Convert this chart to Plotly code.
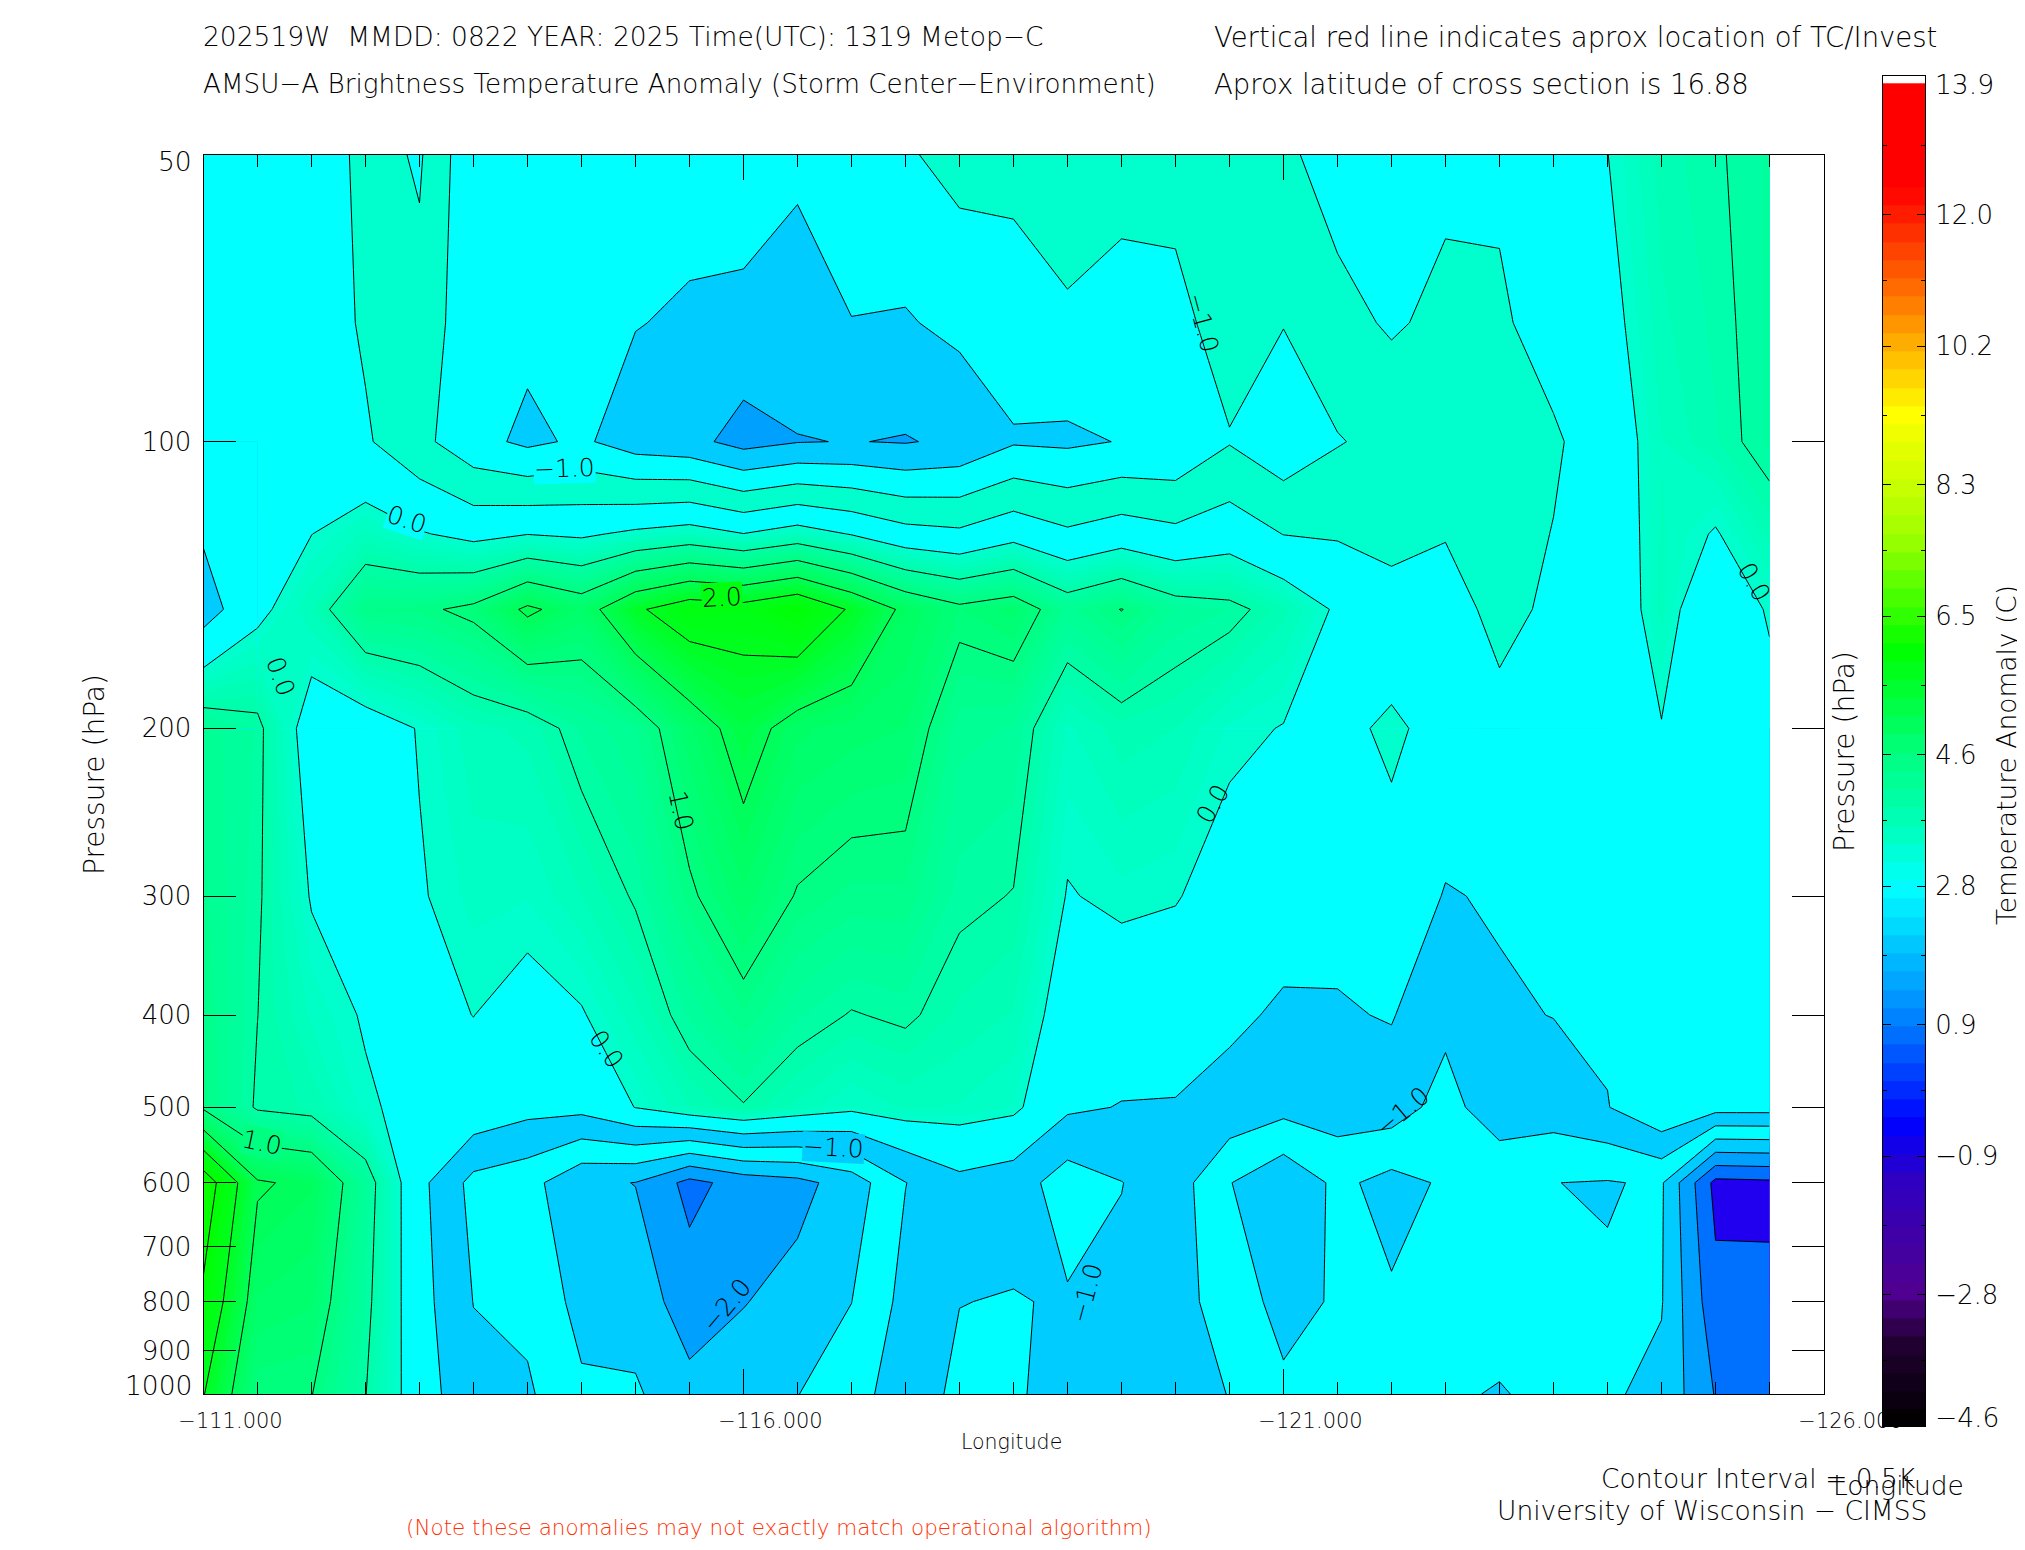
import math
import plotly.graph_objects as go

# longitude columns and pressure rows of the cross section
lons = [-111.0, -111.5, -112.0, -112.5, -113.0, -113.5, -114.0, -114.5, -115.0, -115.5,
        -116.0, -116.5, -117.0, -117.5, -118.0, -118.5, -119.0, -119.5, -120.0, -120.5,
        -121.0, -121.5, -122.0, -122.5, -123.0, -123.5, -124.0, -124.5, -125.0, -125.5]
pressures = [50, 75, 100, 125, 150, 200, 300, 400, 500, 600, 800, 1000]

t50 = [-.15, -.2, -.03, -.7, -.44, -1.41, -1.15, -1.15, -1.21, -1.29,
       -1.15, -1.41, -1.05, -1.06, -.83, -.87, -.61, -.84, -.825, -.54,
       -.6, -.28, -.03, -.38, -.415, -.04, -.005, .35, .47, .62]
t75 = [-.155, -.225, -.2, -.57, -.65, -1.375, -1.375, -1.285, -1.48, -1.57,
       -1.665, -1.715, -1.5175, -1.545, -1.3675, -1.21, -1.0975, -1.16, -1.1375, -.785,
       -.98, -.655, -.44, -.62, -.5675, -.30, -.1275, .273, .4275, .62]
t100 = [-.16, -.25, -.3, -.44, -.86, -1.34, -1.6, -1.42, -1.75, -1.85,
        -2.18, -2.02, -1.985, -2.03, -1.905, -1.55, -1.585, -1.48, -1.45, -1.03,
        -1.36, -1.03, -.85, -.75, -.72, -.5625, -.25, .196, .385, .62]
t125 = [-.445, -.18, -.005, .23, .035, -.125, -.01, -.07, .09, .21,
        .01, .215, -.0225, -.315, -.4025, -.155, -.4125, -.235, -.38, -.215,
        -.51, -.545, -.605, -.525, -.68, -.486, -.32, .218, -.0325, .34]
t150 = [-.73, -.11, .3, .9, .93, 1.09, 1.58, 1.28, 1.93, 2.27,
        2.2, 2.45, 1.94, 1.4, 1.1, 1.24, .76, 1.01, .69, .6,
        .34, -.06, -.36, -.3, -.64, -.41, -.39, .24, -.45, .06]
t200 = [.76, .59, -.23, -.2, .02, .27, .33, .62, .79, 1.27,
        1.68, 1.33, 1.25, 1.2, .74, .69, .18, .36, .3, .08,
        -.015, -.136, .09, -.19, -.355, -.2, -.2, -.02, -.15, -.2]
t300 = [.82, .547, -.027, -.117, -.027, .137, .107, .297, .53, .947,
        1.28, .977, .867, .873, .557, .49, -.02, .067, .023, -.167,
        -.29, -.341, -.19, -.527, -.457, -.33, -.307, -.03, -.2, -.233]
t400 = [.883, .503, .177, -.033, -.073, .003, -.117, -.027, .27, .623,
        .88, .623, .483, .547, .373, .29, -.22, -.227, -.253, -.413,
        -.565, -.545, -.47, -.863, -.558, -.49, -.413, -.04, -.25, -.267]
t500 = [.945, .46, .38, .05, -.12, -.13, -.34, -.35, .01, .3,
        .48, .27, .1, .22, .19, .09, -.42, -.52, -.53, -.66,
        -.84, -.75, -.75, -1.2, -.66, -.75, -.52, -.05, -.3, -.3]
t600 = [2.8, 1.54, 1.42, .7, -.36, -1.15, -1.32, -1.9, -2.01, -2.65,
        -2.3, -2.15, -1.77, -1.01, -.62, -.75, -1.25, -1.01, -.76, -1.48,
        -1.9, -1.39, -1.66, -1.44, -1.43, -1.495, -1.53, -1.44, -3.15, -3.1]
t800 = [2.41, 1.285, 1.215, .605, -.31, -1.01, -1.125, -1.66, -1.7225, -2.25,
        -2.02, -1.83, -1.505, -.845, -.99, -1.03, -.95, -.905, -.805, -1.245,
        -1.655, -1.4475, -1.445, -1.465, -1.4675, -1.48, -1.45, -1.47, -2.84, -2.9]
t1000 = [2.02, 1.03, 1.01, .51, -.26, -.85, -.93, -1.42, -1.435, -1.85,
         -1.74, -1.51, -1.24, -.68, -1.13, -1.08, -.76, -.8, -.85, -1.01,
         -1.41, -1.49, -1.23, -1.49, -1.505, -1.48, -1.44, -1.62, -2.53, -2.7]
anomaly = [t50, t75, t100, t125, t150, t200, t300, t400, t500, t600, t800, t1000]

pressure_ticks = [50, 100, 200, 300, 400, 500, 600, 700, 800, 900, 1000]
pressure_text = ["", "100", "200", "300", "400", "500", "600", "700", "800", "900", ""]
lon_ticks = [-111, -116, -121, -126]
lon_text = ["\u2212111.000", "\u2212116.000", "\u2212121.000", "\u2212126.000"]
lon_minor = [-111 - 0.5 * i for i in range(31)]

bar_ticks = [-4.6, -2.8, -0.9, 0.9, 2.8, 4.6, 6.5, 8.3, 10.2, 12.0, 13.9]
bar_text = ["", "\u22122.8", "\u22120.9", "0.9", "2.8", "4.6", "6.5", "8.3", "10.2", "12.0", ""]
bar_minor = [-3.7, -1.85, 0.0, 1.85, 3.7, 5.55, 7.4, 9.25, 11.1, 12.95]
bar_levels = [-4.5, -4.25, -4.0, -3.75, -3.5, -3.25, -3.0, -2.75, -2.5, -2.25, -2.0, -1.75,
              -1.5, -1.25, -1.0, -0.75, -0.5, -0.25, 0.0, 0.25, 0.5, 0.75, 1.0, 1.25,
              1.5, 1.75, 2.0, 2.25, 2.5, 2.75, 3.0, 3.25, 3.5, 3.75, 4.0, 4.25,
              4.5, 4.75, 5.0, 5.25, 5.5, 5.75, 6.0, 6.25, 6.5, 6.75, 7.0, 7.25,
              7.5, 7.75, 8.0, 8.25, 8.5, 8.75, 9.0, 9.25, 9.5, 9.75, 10.0, 10.25,
              10.5, 10.75, 11.0, 11.25, 11.5, 11.75, 12.0, 12.25, 12.5, 12.75, 13.0, 13.25,
              13.5, 13.7]
bar_scale = [[0.0, "#000000"], [0.06, "#200030"], [0.10, "#500090"], [0.18, "#3000c0"],
             [0.224, "#0000ff"], [0.30, "#0080ff"], [0.3995, "#00ffff"], [0.44, "#00ffc0"],
             [0.497, "#00ff80"], [0.575, "#00ff00"], [0.66, "#a0ff00"], [0.749, "#ffff00"],
             [0.80, "#ffb000"], [0.85, "#ff6000"], [0.917, "#ff0000"], [1.0, "#ff0000"]]

# contour labels: lon, pressure, text, angle, background
labels = [
    (-114.34, 106.8, "\u22121.0", -2, "#00ffff"),
    (-112.88, 120.6, "0.0", 18, "#00ffff"),
    (-115.80, 145.8, "2.0", -3, "#00ff10"),
    (-120.25, 75.0, "\u22121.0", 75, None),
    (-111.71, 176.6, "0.0", 70, None),
    (-115.42, 244.0, "1.0", 78, None),
    (-120.35, 240.0, "0.0", -60, None),
    (-125.36, 140.5, "0.0", 60, None),
    (-114.73, 435.0, "0.0", 55, None),
    (-111.54, 545.0, "1.0", 12, "#00ff80"),
    (-116.83, 551.0, "\u22121.0", 3, "#00ccff"),
    (-115.84, 807.0, "\u22122.0", -50, None),
    (-119.18, 783.0, "\u22121.0", -75, None),
    (-122.10, 505.0, "\u22121.0", -40, None),
]

FONT = "DejaVu Sans ExtraLight, DejaVu Sans Light, DejaVu Sans"
W, H = 2025, 1550
PAGE = 8  # the page body margin moves the figure by this many pixels
START, STEP, END = -3.5, 0.1, 3.05

neg_upper = ["#2000ee", "#0070ff", "#00a0ff", "#00ccff", "#00ffff", "#00ffcc", "#00ffff"]
neg_lower = ["#2000ee", "#0070ff", "#00a0ff", "#00ccff", "#00ffff", "#00ccff", "#00ffff"]
neg_patch = ["#00ffff", "#00ffff", "#00ffff", "#00ffff", "#00ffff", "#00ccff", "#00ffff"]
pos_stops = [(0.0, (0, 255, 208)), (0.5, (0, 255, 168)), (1.0, (0, 255, 128)), (1.5, (0, 255, 88)),
             (2.0, (0, 255, 32)), (2.5, (0, 255, 0)), (3.5, (64, 255, 0))]


def px(x):
    return (x - PAGE) / W


def py(y):
    return 1 - (y - PAGE) / H


def fill_scale(neg):
    # one colour per 0.1 level: flat below zero, shaded above it
    cols = [neg[0]]
    n = 66
    for k in range(n):
        v = START + (k + 0.5) * STEP
        if v < 0:
            cols.append(neg[min(int((v - START) / 0.5), 6)])
        else:
            for (a, ca), (b, cb) in zip(pos_stops, pos_stops[1:]):
                if a <= v <= b:
                    f = (v - a) / (b - a)
                    c = [round(ca[i] + f * (cb[i] - ca[i])) for i in range(3)]
                    cols.append("rgb(%d,%d,%d)" % tuple(c))
                    break
    return [[i / n, c] for i, c in enumerate(cols)]


def fill_trace(x, y, z, scale):
    return go.Contour(x=x, y=y, z=z, autocontour=False, showscale=False, colorscale=scale,
                      contours=dict(start=START, end=END, size=STEP, coloring="fill", showlines=False),
                      line=dict(width=0, smoothing=0), hoverinfo="skip")


fig = go.Figure()

# the -1..-0.5 band is green aloft and blue near the surface in the original
fig.add_trace(fill_trace(lons, pressures[:6], anomaly[:6], fill_scale(neg_upper)))
fig.add_trace(fill_trace(lons, pressures[5:], anomaly[5:], fill_scale(neg_lower)))
fig.add_trace(fill_trace(lons[:2], pressures[2:6], [row[:2] for row in anomaly[2:6]], fill_scale(neg_patch)))

fig.add_trace(go.Contour(x=lons, y=pressures, z=anomaly, autocontour=False, showscale=False,
                         contours=dict(start=-3.5, end=3.0, size=0.5, coloring="none"),
                         line=dict(color="black", width=1, smoothing=0), hoverinfo="skip"))

fig.add_trace(go.Heatmap(x=[0], y=bar_levels, z=[[v] for v in bar_levels], zmin=-4.6, zmax=13.9,
                         colorscale=bar_scale, showscale=False, xaxis="x2", yaxis="y2", hoverinfo="skip"))

axis_font = dict(family=FONT, size=26, color="black")
fig.update_layout(
    width=W, height=H, autosize=False, margin=dict(l=0, r=0, t=0, b=0),
    paper_bgcolor="white", plot_bgcolor="white", showlegend=False,
    font=dict(family=FONT, color="black"),
    xaxis=dict(domain=[px(203.5), px(1823.5)], range=[-111, -126], tickmode="array", automargin=False,
               tickvals=lon_ticks, ticktext=lon_text, tickfont=dict(family=FONT, size=21, color="black"),
               ticks="inside", ticklen=25, tickcolor="black", tickwidth=1, showgrid=False, zeroline=False,
               showline=True, linecolor="black", linewidth=1, mirror="allticks",
               ticklabelstandoff=8, ticklabelshift=-27,
               minor=dict(tickmode="array", tickvals=lon_minor, ticks="inside", ticklen=12,
                          tickcolor="black", tickwidth=1, showgrid=False)),
    yaxis=dict(domain=[py(1394), py(155)], type="log", range=[3, 1.69897], tickmode="array", automargin=False,
               tickvals=pressure_ticks, ticktext=pressure_text, tickfont=axis_font,
               ticks="inside", ticklen=32, tickcolor="black", tickwidth=1, showgrid=False, zeroline=False,
               showline=True, linecolor="black", linewidth=1, mirror="allticks", ticklabelstandoff=6),
    xaxis2=dict(domain=[px(1883), px(1925)], range=[-0.5, 0.5], anchor="y2", showticklabels=False, automargin=False,
                ticks="", showgrid=False, zeroline=False, showline=True, linecolor="black", linewidth=1,
                mirror=True),
    yaxis2=dict(domain=[py(1426), py(76)], range=[-4.6, 13.9], anchor="x2", side="right", automargin=False,
                tickmode="array", tickvals=bar_ticks, ticktext=bar_text, tickfont=axis_font,
                ticks="inside", ticklen=8, tickcolor="black", tickwidth=1, showgrid=False, zeroline=False,
                showline=True, linecolor="black", linewidth=1, mirror="allticks", ticklabelstandoff=4,
                minor=dict(tickmode="array", tickvals=bar_minor, ticks="inside", ticklen=4,
                           tickcolor="black", tickwidth=1, showgrid=False)),
)


def page_text(x, y, text, size=26.5, anchor="left", angle=0, color="black"):
    fig.add_annotation(xref="paper", yref="paper", x=px(x), y=py(y), text=text, showarrow=False,
                       xanchor=anchor, yanchor="middle", textangle=angle,
                       font=dict(family=FONT, size=size, color=color))


page_text(201, 37, "202519W  MMDD: 0822 YEAR: 2025 Time(UTC): 1319 Metop\u2212C")
page_text(201, 84, "AMSU\u2212A Brightness Temperature Anomaly (Storm Center\u2212Environment)", size=26.2)
page_text(1212, 37, "Vertical red line indicates aprox location of TC/Invest", size=27.5)
page_text(1212, 84, "Aprox latitude of cross section is 16.88", size=27.5)
page_text(94, 775, "Pressure (hPa)", angle=-90, anchor="center", size=28)
page_text(1844, 752, "Pressure (hPa)", angle=-90, anchor="center", size=28)
page_text(2006, 755, "Temperature Anomaly (C)", angle=-90, anchor="center")
page_text(1011, 1442, "Longitude", size=20.5, anchor="center")
page_text(1966, 1485, "Longitude", anchor="right")
page_text(1918, 1478, "Contour Interval = 0.5K", anchor="right")
page_text(1929, 1510, "University of Wisconsin \u2212 CIMSS", anchor="right")
page_text(779, 1527, "(Note these anomalies may not exactly match operational algorithm)", size=21.5,
          anchor="center", color="#ff3000")
page_text(194, 161, "50", anchor="right")
page_text(194, 1385, "1000", anchor="right")
page_text(1933, 84, "13.9")
page_text(1933, 1417, "\u22124.6")

for lon, p, text, angle, bg in labels:
    fig.add_annotation(x=lon, y=math.log10(p), xref="x", yref="y", text=text, showarrow=False,
                       textangle=angle, bgcolor=bg, borderpad=0,
                       font=dict(family=FONT, size=25, color="black"))

fig.write_html("out.html")
